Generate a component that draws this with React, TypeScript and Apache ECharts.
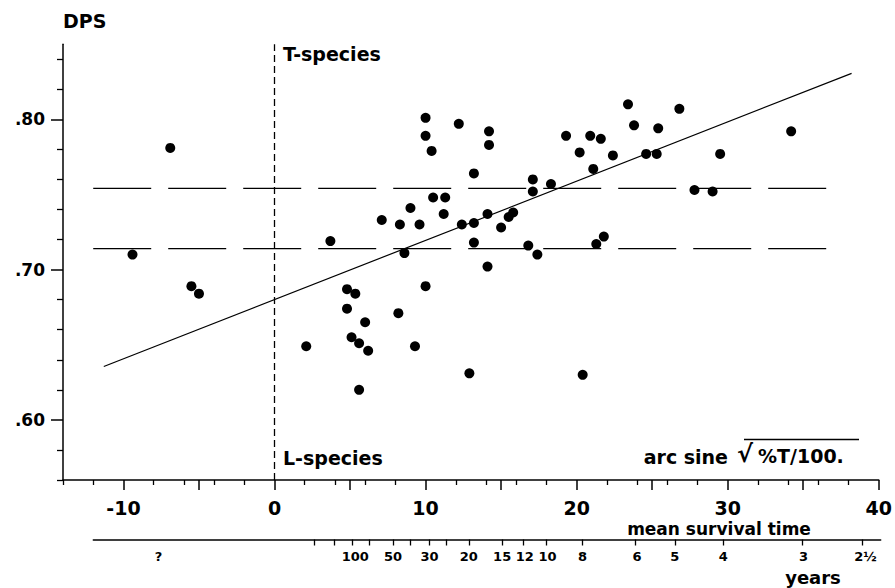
import React, { useEffect, useRef } from 'react';
import * as echarts from 'echarts';

// arc sine sqrt(%T/100) (x) and DPS (y) for each species
const POINT_X = [
  -9.4, -6.9, -5.5, -5.0, 2.1, 3.7, 4.8, 5.35, 4.8, 5.1, 5.6, 6.0, 6.2, 5.6, 7.1, 8.2, 8.3, 8.6, 9.0, 9.3,
  9.6, 10.0, 10.0, 10.4, 10.0, 10.5, 11.3, 11.2, 12.2, 12.4, 12.9, 13.2, 13.2, 13.2, 14.2, 14.2, 14.1, 14.1,
  15.0, 15.5, 15.8, 16.8, 17.1, 17.1, 17.4, 18.3, 19.3, 20.2, 20.4, 20.9, 21.1, 21.3, 21.6, 21.8, 22.4, 23.4,
  23.8, 24.6, 25.3, 25.4, 26.8, 27.8, 29.0, 29.5, 34.2,
];
const POINT_Y = [
  0.710, 0.781, 0.689, 0.684, 0.649, 0.719, 0.687, 0.684, 0.674, 0.655, 0.651, 0.665, 0.646, 0.620, 0.733,
  0.671, 0.730, 0.711, 0.741, 0.649, 0.730, 0.801, 0.789, 0.779, 0.689, 0.748, 0.748, 0.737, 0.797, 0.730,
  0.631, 0.764, 0.731, 0.718, 0.792, 0.783, 0.737, 0.702, 0.728, 0.735, 0.738, 0.716, 0.760, 0.752, 0.710,
  0.757, 0.789, 0.778, 0.630, 0.789, 0.767, 0.717, 0.787, 0.722, 0.776, 0.810, 0.796, 0.777, 0.777, 0.794,
  0.807, 0.753, 0.752, 0.777, 0.792,
];

// regression line end points
const REG_X = [-11.3, 38.2];
const REG_Y = [0.6355, 0.8306];

// horizontal dashed reference levels and their x-extent
const LEVELS = [0.754, 0.714];
const LEVEL_X = [-12, 36.8];

// T/L species divider
const DIVIDER_X = 0;
const DIVIDER_Y = [0.56, 0.85];

// main axes
const X_MIN = -14;
const X_MAX = 40;
const Y_MIN = 0.56;
const Y_MAX = 0.85;
const X_MINOR_TICKS = [-14, -12, -8, -6, -4, -2, 2, 4, 6, 8, 12, 14, 16, 18, 22, 24, 26, 28, 32, 34, 36, 38];
const X_MAJOR_TICKS = [-10, -5, 0, 5, 10, 15, 20, 25, 30, 35, 40];
const X_LABELS = [-10, 0, 10, 20, 30, 40];
const Y_MINOR_TICKS = [0.56, 0.58, 0.62, 0.64, 0.66, 0.68, 0.72, 0.74, 0.76, 0.78, 0.82, 0.84];
const Y_MAJOR_TICKS = [0.6, 0.7, 0.8];
const Y_LABELS = ['.60', '.70', '.80'];

// mean survival time scale (positions in arc sine units)
const SURV_MIN = -12;
const SURV_TICKS = [2.6, 3.9, 5.1, 6.2, 7.8, 8.9, 10.2, 11.3, 12.8, 15.0, 16.4, 17.9, 20.3, 23.8, 26.4, 29.6, 34.8, 38.8];
const SURV_LABEL_POS = [-7.7, 5.3, 7.8, 10.2, 12.8, 15.0, 16.5, 18.0, 20.3, 23.9, 26.4, 29.6, 34.9, 39.0];
const SURV_LABELS = ['?', '100', '50', '30', '20', '15', '12', '10', '8', '6', '5', '4', '3', '2½'];

const FONT = '"DejaVu Sans", "Liberation Sans", sans-serif';
const BLACK = '#000';

function labelFor(list: number[], labels: string[], v: number): string {
  for (let i = 0; i < list.length; i++) {
    if (Math.abs(list[i] - v) < 1e-6) return labels[i];
  }
  return '';
}

export default function App() {
  const ref = useRef<HTMLDivElement>(null);

  useEffect(() => {
    if (!ref.current) return;
    const chart = echarts.init(ref.current, null, { renderer: 'svg' });

    const points = POINT_X.map((x, i) => [x, POINT_Y[i]]);
    const reg = REG_X.map((x, i) => [x, REG_Y[i]]);

    const textEl = (text: string, x: number, y: number, size: number, align = 'left', weight = 'bold', style = 'normal') => ({
      type: 'text',
      x,
      y,
      silent: true,
      style: {
        text,
        fill: BLACK,
        font: `${style} ${weight} ${size}px ${FONT}`,
        align,
        verticalAlign: 'middle',
      },
    });

    const option: any = {
      animation: false,
      backgroundColor: '#fff',
      grid: [
        { left: 63, right: 14.3, top: 44.2, bottom: 108 },
        { left: 93.3, right: 14.3, top: 538.5, height: 1 },
      ],
      xAxis: [
        {
          gridIndex: 0,
          type: 'value',
          min: X_MIN,
          max: X_MAX,
          position: 'bottom',
          axisLine: { show: true, onZero: false, lineStyle: { color: BLACK, width: 1.5 } },
          axisTick: {
            show: true,
            customValues: X_MINOR_TICKS,
            length: 5,
            lineStyle: { color: BLACK, width: 1.3 },
          },
          axisLabel: {
            show: true,
            customValues: X_LABELS,
            margin: 18,
            color: BLACK,
            fontFamily: FONT,
            fontWeight: 'bold',
            fontSize: 19,
            formatter: (v: number) => String(v),
          },
          splitLine: { show: false },
        },
        {
          gridIndex: 0,
          type: 'value',
          min: X_MIN,
          max: X_MAX,
          position: 'bottom',
          offset: 0,
          axisLine: { show: false, onZero: false },
          axisTick: {
            show: true,
            customValues: X_MAJOR_TICKS,
            length: 10,
            lineStyle: { color: BLACK, width: 1.5 },
          },
          axisLabel: { show: false },
          splitLine: { show: false },
        },
        {
          gridIndex: 1,
          type: 'value',
          min: SURV_MIN,
          max: X_MAX,
          position: 'bottom',
          axisLine: { show: true, onZero: false, lineStyle: { color: BLACK, width: 1.5 } },
          axisTick: {
            show: true,
            customValues: SURV_TICKS,
            length: 6,
            lineStyle: { color: BLACK, width: 1.3 },
          },
          axisLabel: {
            show: true,
            customValues: SURV_LABEL_POS,
            margin: 10,
            color: BLACK,
            fontFamily: FONT,
            fontWeight: 'bold',
            fontSize: 13,
            formatter: (v: number) => labelFor(SURV_LABEL_POS, SURV_LABELS, v),
          },
          splitLine: { show: false },
        },
      ],
      yAxis: [
        {
          gridIndex: 0,
          type: 'value',
          min: Y_MIN,
          max: Y_MAX,
          position: 'left',
          axisLine: { show: true, onZero: false, lineStyle: { color: BLACK, width: 1.5 } },
          axisTick: {
            show: true,
            customValues: Y_MINOR_TICKS,
            length: 6,
            lineStyle: { color: BLACK, width: 1.3 },
          },
          axisLabel: {
            show: true,
            customValues: Y_MAJOR_TICKS,
            margin: 18,
            color: BLACK,
            fontFamily: FONT,
            fontWeight: 'bold',
            fontSize: 17,
            formatter: (v: number) => labelFor(Y_MAJOR_TICKS, Y_LABELS, v),
          },
          splitLine: { show: false },
        },
        {
          gridIndex: 0,
          type: 'value',
          min: Y_MIN,
          max: Y_MAX,
          position: 'left',
          offset: 0,
          axisLine: { show: false, onZero: false },
          axisTick: {
            show: true,
            customValues: Y_MAJOR_TICKS,
            length: 12,
            lineStyle: { color: BLACK, width: 1.5 },
          },
          axisLabel: { show: false },
          splitLine: { show: false },
        },
        {
          gridIndex: 1,
          type: 'value',
          min: 0,
          max: 1,
          show: false,
        },
      ],
      series: [
        {
          name: 'species',
          type: 'scatter',
          xAxisIndex: 0,
          yAxisIndex: 0,
          data: points,
          symbol: 'circle',
          symbolSize: 10,
          itemStyle: { color: BLACK, opacity: 1 },
          z: 5,
        },
        {
          name: 'regression',
          type: 'line',
          xAxisIndex: 0,
          yAxisIndex: 0,
          data: reg,
          symbol: 'none',
          lineStyle: { color: BLACK, width: 1.2 },
          z: 4,
        },
        ...LEVELS.map((lv, i) => ({
          name: 'level' + i,
          type: 'line',
          xAxisIndex: 0,
          yAxisIndex: 0,
          data: LEVEL_X.map((x) => [x, lv]),
          symbol: 'none',
          lineStyle: { color: BLACK, width: 1.2, type: [58, 17] },
          z: 3,
        })),
        {
          name: 'divider',
          type: 'line',
          xAxisIndex: 0,
          yAxisIndex: 0,
          data: DIVIDER_Y.map((y) => [DIVIDER_X, y]),
          symbol: 'none',
          lineStyle: { color: BLACK, width: 1.3, type: [7, 4] },
          z: 3,
        },
      ],
      graphic: [
        textEl('DPS', 63, 21, 19),
        textEl('T-species', 283, 54, 19),
        textEl('L-species', 283, 458, 19),
        textEl('arc sine', 728, 457, 19, 'right'),
        textEl('√', 737, 454, 24, 'left', 'bold', 'italic'),
        textEl('%T/100.', 758, 456, 19),
        {
          type: 'line',
          silent: true,
          shape: { x1: 744, y1: 439.5, x2: 859, y2: 439.5 },
          style: { stroke: BLACK, lineWidth: 1.5 },
        },
        textEl('mean survival time', 719, 529, 17, 'center'),
        textEl('years', 813, 577, 18, 'center'),
      ],
    };

    chart.setOption(option);
    return () => chart.dispose();
  }, []);

  return (
    <div
      ref={ref}
      style={{ position: 'fixed', left: 0, top: 0, width: 895, height: 588, background: '#fff' }}
    />
  );
}
